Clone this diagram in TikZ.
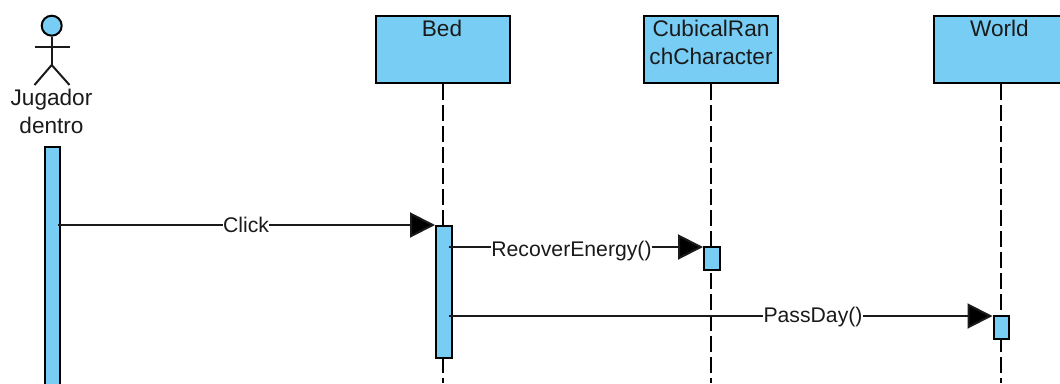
\documentclass[tikz,border=0pt]{standalone}
\usepackage{fontspec}
\setmainfont{Liberation Sans}
\usetikzlibrary{arrows.meta}
\definecolor{fillblue}{HTML}{78CDF5}
\definecolor{inkk}{HTML}{1A1A1A}
\tikzset{
  x=1pt,y=-1pt,
  box/.style={draw=black,fill=fillblue,line width=2pt,rectangle,inner sep=0pt,minimum width=134pt,minimum height=67pt,anchor=north west},
  activation/.style={draw=black,fill=fillblue,line width=2pt,rectangle,inner sep=0pt,anchor=north west},
  lifeline/.style={draw=black,line width=2pt,dash pattern=on 16pt off 5pt},
  msg/.style={draw=inkk,line width=2pt,-{Triangle[length=25pt,width=25pt,fill=black]}},
  stick/.style={draw=inkk,line width=2pt},
  txt/.style={font=\fontsize{22.6}{27.5}\selectfont,text=inkk,inner sep=0pt,align=center},
  msglabel/.style={font=\fontsize{21.2}{24}\selectfont,text=inkk,inner sep=0.5pt,fill=white}
}
\begin{document}
\begin{tikzpicture}
\useasboundingbox (0,0) rectangle (1060,383);
\clip (0,0) rectangle (1060,383);
% lifelines
\coordinate (end) at (0,383);
\node[box] (bed) at (375.2,15.2) {};
\node[box] (cub) at (643.4,15.2) {};
\node[box] (wor) at (932.8,15.2) {};
\draw[lifeline] (bed.south) -- (bed.south |- end);
\draw[lifeline] (cub.south) -- (cub.south |- end);
\draw[lifeline] (wor.south) -- (wor.south |- end);
\node[txt,anchor=north] (bedt) at (442,20) {Bed};
\node[txt,anchor=north] (cubt) at (711,20) {CubicalRan\\chCharacter};
\node[txt,anchor=north] (wort) at (999.5,20) {World};
% actor
\node[draw=black,fill=fillblue,line width=2pt,circle,inner sep=0pt,minimum size=20pt] (head) at (51.7,25.7) {};
\coordinate (armL) at (34.5,47);
\coordinate (armR) at (69.5,47);
\coordinate (hip) at (51.7,65);
\coordinate (legL) at (34.5,85);
\coordinate (legR) at (69.5,85);
\draw[stick] (head.south) -- (hip);
\draw[stick] (armL) -- (armR);
\draw[stick] (legL) -- (hip) -- (legR);
\node[txt,anchor=north] (actor) at (51.5,89) {Jugador\\dentro};
% activations
\node[activation,minimum width=15pt,minimum height=250pt] (aj) at (44.3,146.3) {};
\node[activation,minimum width=16pt,minimum height=132pt] (ab) at (434.5,225) {};
\node[activation,minimum width=16pt,minimum height=23pt] (ac) at (702.5,246.2) {};
\node[activation,minimum width=15pt,minimum height=23pt] (aw) at (992.5,315.2) {};
% messages
\coordinate (m1s) at (58,225);
\coordinate (m1e) at (435,225);
\coordinate (m2s) at (449,247);
\coordinate (m2e) at (703,247);
\coordinate (m3s) at (449,316);
\coordinate (m3e) at (992.5,316);
\draw[msg] (m1s) -- (m1e);
\draw[msg] (m2s) -- (m2e);
\draw[msg] (m3s) -- (m3e);
\node[msglabel] (l1) at (246,224.5) {Click};
\node[msglabel] (l2) at (571.5,251) {RecoverEnergy()};
\node[msglabel] (l3) at (813,317) {PassDay()};
\end{tikzpicture}
\end{document}
